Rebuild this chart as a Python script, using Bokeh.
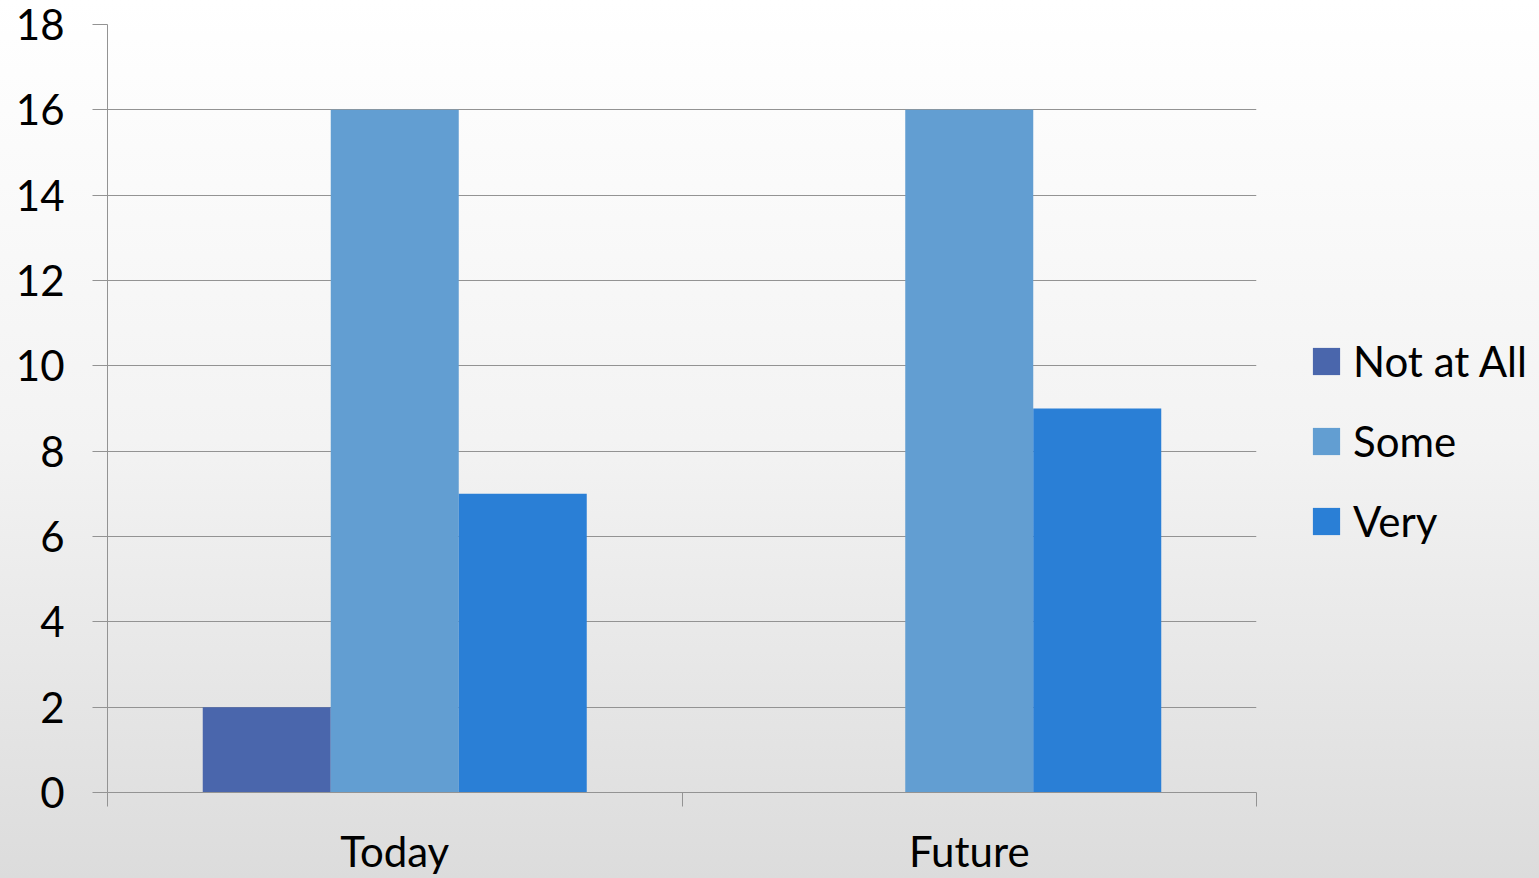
from bokeh.plotting import figure
from bokeh.models import ColumnDataSource, Range1d, FixedTicker, Legend, LegendItem
from bokeh.embed import file_html
from bokeh.resources import INLINE

categories = ["Today", "Future"]
series_names = ["Not at All", "Some", "Very"]
not_at_all = [2, 0]
some = [16, 16]
very = [7, 9]
colors = ["#4A66AC", "#629ED2", "#2A7FD6"]
y_ticks = [0, 2, 4, 6, 8, 10, 12, 14, 16, 18]

FONT = "Lato"
GRID = "#939393"

p = figure(frame_width=1149, frame_height=768, output_backend="svg", toolbar_location=None,
           x_range=Range1d(0, len(categories)), y_range=Range1d(0, 18),
           min_border_left=107, min_border_right=0, min_border_top=24, min_border_bottom=86)
p.styles = {"background": "linear-gradient(to bottom, #ffffff 0%, #f3f3f3 50%, #dcdcdc 100%)"}
p.background_fill_color = None
p.border_fill_color = None
p.outline_line_color = None

bar_w = 0.2228
renderers = []
for i, (name, vals) in enumerate(zip(series_names, [not_at_all, some, very])):
    xs = [k + 0.5 + (i - 1) * bar_w for k in range(len(categories))]
    src = ColumnDataSource(dict(x=xs, top=vals))
    r = p.vbar(x="x", top="top", bottom=0, width=bar_w, source=src,
               fill_color=colors[i], line_color=None)
    renderers.append((name, r))

# y axis
p.yaxis.ticker = FixedTicker(ticks=y_ticks, minor_ticks=[])
p.yaxis.axis_line_color = GRID
p.yaxis.major_tick_line_color = GRID
p.yaxis.major_tick_out = 15
p.yaxis.major_tick_in = 0
p.yaxis.minor_tick_line_color = None
p.yaxis.major_label_text_font = FONT
p.yaxis.major_label_text_font_size = "42px"
p.yaxis.major_label_text_color = "#000000"
p.yaxis.major_label_standoff = 28

# x axis: labels at category centers, ticks at boundaries
p.xaxis.ticker = FixedTicker(ticks=[k + 0.5 for k in range(len(categories))],
                             minor_ticks=list(range(len(categories) + 1)))
p.xaxis.major_label_overrides = {k + 0.5: c for k, c in enumerate(categories)}
p.xaxis.axis_line_color = GRID
p.xaxis.major_tick_line_color = None
p.xaxis.major_tick_out = 0
p.xaxis.major_tick_in = 0
p.xaxis.minor_tick_line_color = GRID
p.xaxis.minor_tick_out = 14
p.xaxis.minor_tick_in = 0
p.xaxis.major_label_text_font = FONT
p.xaxis.major_label_text_font_size = "42px"
p.xaxis.major_label_text_color = "#000000"
p.xaxis.major_label_standoff = 19

p.xgrid.grid_line_color = None
p.ygrid.ticker = FixedTicker(ticks=y_ticks)
p.ygrid.grid_line_color = GRID
p.ygrid.grid_line_width = 1

legend = Legend(items=[LegendItem(label=n, renderers=[r]) for n, r in renderers],
                location=(53, 246), orientation="vertical",
                glyph_width=34, glyph_height=34, label_standoff=10, spacing=30,
                padding=0, margin=0, border_line_color=None, background_fill_alpha=0,
                label_text_font=FONT, label_text_font_size="42px", label_text_color="#000000")
p.add_layout(legend, "right")

open("out.html", "w").write(file_html(p, INLINE))
